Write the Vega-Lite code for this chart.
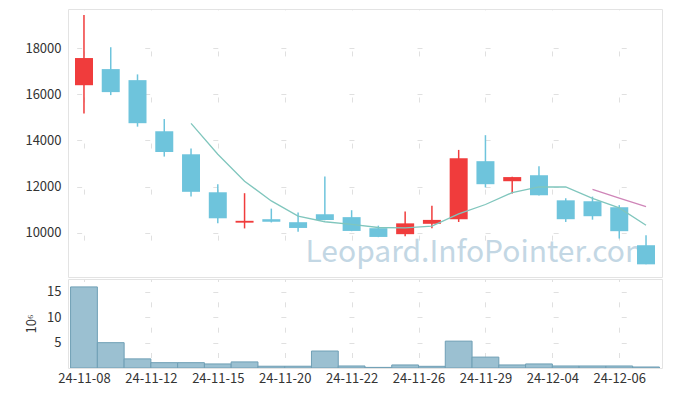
{
  "$schema": "https://vega.github.io/schema/vega-lite/v6.json",
  "padding": {"left": 24, "top": 8, "right": 8, "bottom": 5},
  "background": "white",
  "spacing": 0,
  "config": {
    "font": "Noto Sans CJK KR",
    "view": {"stroke": "#e3e3e3", "strokeWidth": 1},
    "axis": {
      "labelFont": "Noto Sans CJK KR",
      "labelFontSize": 13,
      "labelColor": "#333333",
      "titleFont": "Noto Sans CJK KR",
      "titleFontSize": 13,
      "titleFontWeight": "normal",
      "titleColor": "#333333",
      "ticks": false,
      "domain": false,
      "gridColor": "#e0e0e0",
      "gridWidth": 1,
      "labelPadding": 7
    }
  },
  "datasets": {
    "ohlc": [
      {"i": 0, "date": "24-11-08", "open": 16400, "high": 19450, "low": 15170, "close": 17580, "volume": 16000000, "ma5": null, "ma20": null},
      {"i": 1, "date": "24-11-11", "open": 17100, "high": 18050, "low": 15970, "close": 16100, "volume": 5000000, "ma5": null, "ma20": null},
      {"i": 2, "date": "24-11-12", "open": 16620, "high": 16870, "low": 14600, "close": 14750, "volume": 1800000, "ma5": null, "ma20": null},
      {"i": 3, "date": "24-11-13", "open": 14400, "high": 14930, "low": 13300, "close": 13500, "volume": 1050000, "ma5": null, "ma20": null},
      {"i": 4, "date": "24-11-14", "open": 13400, "high": 13650, "low": 11570, "close": 11770, "volume": 1050000, "ma5": 14740, "ma20": null},
      {"i": 5, "date": "24-11-15", "open": 11750, "high": 12100, "low": 10400, "close": 10620, "volume": 800000, "ma5": 13400, "ma20": null},
      {"i": 6, "date": "24-11-18", "open": 10430, "high": 11710, "low": 10180, "close": 10510, "volume": 1200000, "ma5": 12230, "ma20": null},
      {"i": 7, "date": "24-11-19", "open": 10580, "high": 11040, "low": 10440, "close": 10470, "volume": 350000, "ma5": 11374, "ma20": null},
      {"i": 8, "date": "24-11-20", "open": 10450, "high": 10870, "low": 10040, "close": 10200, "volume": 350000, "ma5": 10714, "ma20": null},
      {"i": 9, "date": "24-11-21", "open": 10800, "high": 12430, "low": 10540, "close": 10550, "volume": 3350000, "ma5": 10470, "ma20": null},
      {"i": 10, "date": "24-11-22", "open": 10670, "high": 10970, "low": 10060, "close": 10070, "volume": 400000, "ma5": 10360, "ma20": null},
      {"i": 11, "date": "24-11-25", "open": 10190, "high": 10300, "low": 9800, "close": 9810, "volume": 120000, "ma5": 10220, "ma20": null},
      {"i": 12, "date": "24-11-26", "open": 9930, "high": 10910, "low": 9840, "close": 10400, "volume": 600000, "ma5": 10206, "ma20": null},
      {"i": 13, "date": "24-11-27", "open": 10380, "high": 11170, "low": 10190, "close": 10550, "volume": 330000, "ma5": 10276, "ma20": null},
      {"i": 14, "date": "24-11-28", "open": 10580, "high": 13590, "low": 10460, "close": 13230, "volume": 5300000, "ma5": 10812, "ma20": null},
      {"i": 15, "date": "24-11-29", "open": 13100, "high": 14230, "low": 11960, "close": 12100, "volume": 2150000, "ma5": 11218, "ma20": null},
      {"i": 16, "date": "24-12-02", "open": 12230, "high": 12420, "low": 11700, "close": 12410, "volume": 600000, "ma5": 11736, "ma20": null},
      {"i": 17, "date": "24-12-03", "open": 12490, "high": 12880, "low": 11610, "close": 11620, "volume": 800000, "ma5": 11980, "ma20": null},
      {"i": 18, "date": "24-12-04", "open": 11400, "high": 11490, "low": 10460, "close": 10580, "volume": 400000, "ma5": 11986, "ma20": null},
      {"i": 19, "date": "24-12-05", "open": 11360, "high": 11560, "low": 10560, "close": 10710, "volume": 400000, "ma5": 11482, "ma20": 11876},
      {"i": 20, "date": "24-12-06", "open": 11100, "high": 11190, "low": 9740, "close": 10060, "volume": 400000, "ma5": 11074, "ma20": 11500},
      {"i": 21, "date": "24-12-09", "open": 9450, "high": 9880, "low": 8620, "close": 8620, "volume": 200000, "ma5": 10318, "ma20": 11126}
    ],
    "watermark": [
      {"label": "Leopard.InfoPointer.com"}
    ]
  },
  "vconcat": [
    {
      "width": 594,
      "height": 268,
      "layer": [
        {
          "data": {"name": "watermark"},
          "mark": {"type": "text", "font": "Noto Sans CJK KR", "fontSize": 30, "fill": "#c3d7e4", "align": "right", "baseline": "alphabetic"},
          "encoding": {
            "x": {"datum": 21.25, "type": "quantitative", "scale": {"domain": [-0.41, 21.41], "nice": false, "zero": false}},
            "y": {"datum": 8720, "type": "quantitative", "scale": {"domain": [8070, 19710], "nice": false, "zero": false}},
            "text": {"field": "label", "type": "nominal"}
          }
        },
        {
          "data": {"name": "ohlc"},
          "mark": {"type": "rule", "strokeWidth": 1.5},
          "encoding": {
            "x": {
              "field": "i",
              "type": "quantitative",
              "scale": {"domain": [-0.41, 21.41], "nice": false, "zero": false},
              "axis": {
                "values": [0, 2.5, 5, 7.5, 10, 12.5, 15, 17.5, 20],
                "labels": false,
                "title": null,
                "grid": true,
                "gridDash": [5, 41.05],
                "gridDashOffset": 4.11
              }
            },
            "y": {
              "field": "low",
              "type": "quantitative",
              "scale": {"domain": [8070, 19710], "nice": false, "zero": false},
              "axis": {
                "title": null,
                "format": "d",
                "values": [10000, 12000, 14000, 16000, 18000],
                "grid": true,
                "gridDash": [5, 63.07],
                "gridDashOffset": 59.41
              }
            },
            "y2": {"field": "high"},
            "color": {"condition": {"test": "datum.close >= datum.open", "value": "#f03c3c"}, "value": "#6ec4dc"}
          }
        },
        {
          "data": {"name": "ohlc"},
          "mark": {"type": "bar", "size": 18},
          "encoding": {
            "x": {"field": "i", "type": "quantitative"},
            "y": {"field": "open", "type": "quantitative"},
            "y2": {"field": "close"},
            "color": {"condition": {"test": "datum.close >= datum.open", "value": "#f03c3c"}, "value": "#6ec4dc"}
          }
        },
        {
          "data": {"name": "ohlc"},
          "mark": {"type": "line", "strokeWidth": 1.3, "color": "#80c6bd"},
          "encoding": {
            "x": {"field": "i", "type": "quantitative"},
            "y": {"field": "ma5", "type": "quantitative"}
          }
        },
        {
          "data": {"name": "ohlc"},
          "mark": {"type": "line", "strokeWidth": 1.3, "color": "#cf85b8"},
          "encoding": {
            "x": {"field": "i", "type": "quantitative"},
            "y": {"field": "ma20", "type": "quantitative"}
          }
        }
      ]
    },
    {
      "width": 594,
      "height": 89,
      "data": {"name": "ohlc"},
      "mark": {"type": "bar", "size": 26.8, "fill": "#9bc0d1", "stroke": "#6f9fb5", "strokeWidth": 1, "clip": true},
      "encoding": {
        "x": {
          "field": "i",
          "type": "quantitative",
          "scale": {"domain": [-0.41, 21.41], "nice": false, "zero": false},
          "axis": {
            "values": [0, 2.5, 5, 7.5, 10, 12.5, 15, 17.5, 20],
            "labelExpr": "['24-11-08','24-11-12','24-11-15','24-11-20','24-11-22','24-11-26','24-11-29','24-12-04','24-12-06'][round(datum.value/2.5)]",
            "labelPadding": 4,
            "title": null,
            "grid": true,
            "gridDash": [5, 20.34],
            "gridDashOffset": 2.5
          }
        },
        "y": {
          "field": "volume",
          "type": "quantitative",
          "scale": {"domain": [0, 17560000], "nice": false},
          "axis": {
            "values": [5000000, 10000000, 15000000],
            "labelExpr": "datum.value/1000000",
            "title": "10⁶",
            "titlePadding": 8,
            "grid": true,
            "gridDash": [5, 63.07],
            "gridDashOffset": 59.41
          }
        }
      }
    }
  ]
}
